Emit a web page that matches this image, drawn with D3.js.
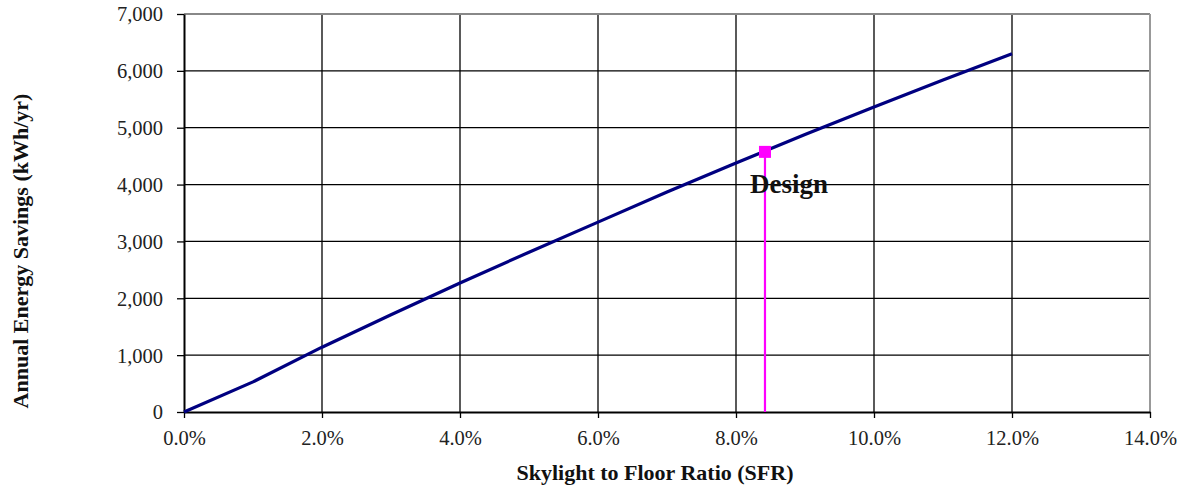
<!DOCTYPE html>
<html><head><meta charset="utf-8">
<script src="https://cdn.jsdelivr.net/npm/d3@7"></script>
<style>body{margin:0;background:#fff;} text{font-family:"Liberation Serif","Times New Roman",serif;}</style>
</head><body>
<svg id="c" width="1186" height="491"></svg>
<script>
const sfr = [0,0.01,0.02,0.03,0.04,0.05,0.06,0.07,0.08,0.09,0.10,0.11,0.12];
const savings = [0,530,1140,1710,2270,2810,3340,3870,4380,4880,5365,5840,6300];
const designSfr = [0.0842];
const designSavings = [4575];
const xTicks = [0,0.02,0.04,0.06,0.08,0.10,0.12,0.14];
const yTicks = [0,1000,2000,3000,4000,5000,6000,7000];

const svg = d3.select("#c");
const L=184,R=1150,T=14,B=412;
const x = d3.scaleLinear().domain([0,0.14]).range([L,R]);
const y = d3.scaleLinear().domain([0,7000]).range([B,T]);

// grid
svg.append("g").selectAll("line").data(yTicks.slice(1,-1)).join("line")
  .attr("x1",L).attr("x2",R).attr("y1",d=>y(d)).attr("y2",d=>y(d)).attr("stroke","#000").attr("stroke-width",1.3);
svg.append("g").selectAll("line").data(xTicks.slice(1,-1)).join("line")
  .attr("y1",T).attr("y2",B).attr("x1",d=>x(d)).attr("x2",d=>x(d)).attr("stroke","#000").attr("stroke-width",1.3);
// border top/right gray
svg.append("line").attr("x1",L).attr("x2",R).attr("y1",T).attr("y2",T).attr("stroke","#888").attr("stroke-width",2);
svg.append("line").attr("x1",R).attr("x2",R).attr("y1",T).attr("y2",B).attr("stroke","#999").attr("stroke-width",2);

// axes
const xa = svg.append("g").attr("transform",`translate(0,${B})`)
  .call(d3.axisBottom(x).tickValues(xTicks).tickFormat(d3.format(".1%")).tickSize(6).tickSizeOuter(0));
const ya = svg.append("g").attr("transform",`translate(${L},0)`)
  .call(d3.axisLeft(y).tickValues(yTicks).tickFormat(d3.format(",")).tickSize(7).tickSizeOuter(0));
[xa,ya].forEach(a=>{
  a.attr("font-size",null).attr("font-family",null);
  a.select(".domain").attr("stroke","#000").attr("stroke-width",2);
  a.selectAll(".tick line").attr("stroke","#000").attr("stroke-width",1.3);
  a.selectAll("text").style("font-size","20.5px").attr("fill","#222").style("font-family","'Liberation Serif',serif");
});
xa.selectAll("text").attr("y",33).attr("dy",null);
ya.selectAll("text").attr("x",-21).attr("dy","0.34em");

// series line
svg.append("path").datum(sfr.map((s,i)=>[s,savings[i]]))
  .attr("d",d3.line().x(d=>x(d[0])).y(d=>y(d[1])))
  .attr("fill","none").attr("stroke","#000080").attr("stroke-width",3.2);

// design marker
svg.append("line").attr("x1",x(designSfr[0])).attr("x2",x(designSfr[0]))
  .attr("y1",y(designSavings[0])).attr("y2",y(0)).attr("stroke","#ff00ff").attr("stroke-width",2.2);
svg.append("rect").attr("x",x(designSfr[0])-6).attr("y",y(designSavings[0])-6).attr("width",12).attr("height",12).attr("fill","#ff00ff");
svg.append("text").attr("x",x(designSfr[0])-15).attr("y",y(designSavings[0])+41)
  .style("font-size","27px").attr("font-weight","bold").attr("fill","#111").text("Design");

// titles
svg.append("text").attr("x",655).attr("y",480).attr("text-anchor","middle")
  .style("font-size","22px").attr("font-weight","bold").attr("fill","#111").text("Skylight to Floor Ratio (SFR)");
svg.append("text").attr("transform",`translate(28,${251}) rotate(-90)`).attr("text-anchor","middle")
  .style("font-size","22px").attr("font-weight","bold").attr("fill","#111").text("Annual Energy Savings (kWh/yr)");
</script>
</body></html>
